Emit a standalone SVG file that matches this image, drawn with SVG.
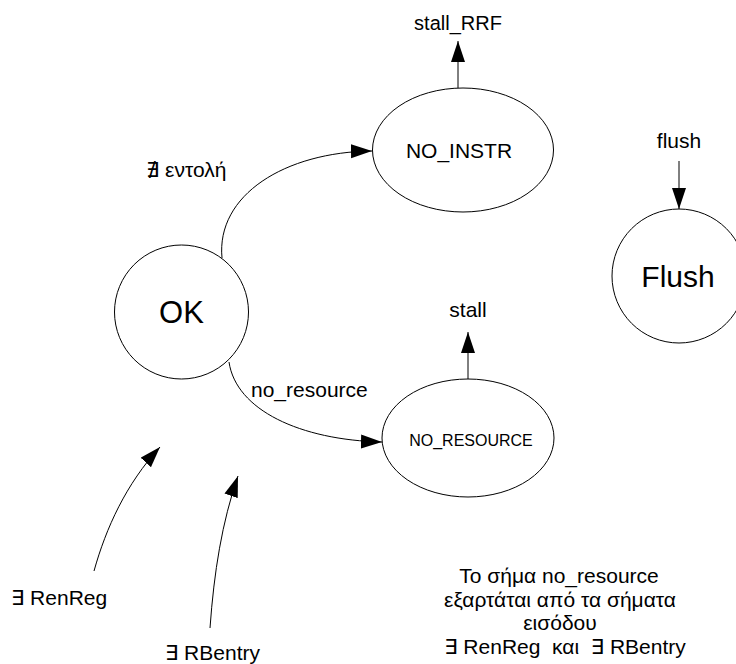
<svg xmlns="http://www.w3.org/2000/svg" width="736" height="664" viewBox="0 0 736 664">
  <style>
    .state { fill: #ffffff; stroke: #000000; stroke-width: 1; }
    .lbl { font-family: "Liberation Sans", "DejaVu Sans", Arial, sans-serif; font-size: 21px; fill: #000000; white-space: pre; }
    .mid { text-anchor: middle; }
    .edge { fill: none; stroke: #000000; stroke-width: 1; marker-end: url(#arrow); }
  </style>
  <defs>
    <marker id="arrow" markerUnits="userSpaceOnUse" markerWidth="21" markerHeight="15" refX="21" refY="7" orient="auto">
      <path d="M0,0 L21,7 L0,14 Z" fill="#000000"/>
    </marker>
  </defs>
  <rect x="0" y="0" width="736" height="664" fill="#ffffff"/>

  <!-- state nodes -->
  <g id="ok">
    <circle class="state" cx="181.5" cy="312" r="67"/>
    <text class="lbl mid" x="181.5" y="323" style="font-size:31px">OK</text>
  </g>
  <g id="no_instr">
    <ellipse class="state" cx="463" cy="150" rx="90.5" ry="62"/>
    <text class="lbl mid" x="459" y="158">NO_INSTR</text>
  </g>
  <g id="no_resource">
    <ellipse class="state" cx="468" cy="438" rx="86" ry="59"/>
    <text class="lbl mid" x="471" y="446" style="font-size:16px">NO_RESOURCE</text>
  </g>
  <g id="flush_state">
    <circle class="state" cx="679" cy="276" r="67"/>
    <text class="lbl mid" x="678" y="287" style="font-size:30px">Flush</text>
  </g>

  <!-- transitions and signals -->
  <g id="connectors">
    <path class="edge" d="M222,258 C216,195 285,152 372,151"/>
    <path class="edge" d="M229,362 C236,410 300,440 382,442"/>
    <line class="edge" x1="458" y1="88" x2="458" y2="41"/>
    <line class="edge" x1="468" y1="379" x2="468" y2="332"/>
    <line class="edge" x1="679" y1="161" x2="679" y2="209"/>
    <path class="edge" d="M94,571 C106,528 126,484 160,447"/>
    <path class="edge" d="M210,628 C214,572 222,522 238,476"/>
  </g>

  <!-- labels -->
  <g id="labels">
    <text class="lbl" x="146" y="177">∄ εντολή</text>
    <text class="lbl" x="251" y="397">no_resource</text>
    <text class="lbl mid" x="458" y="30" style="font-size:20px">stall_RRF</text>
    <text class="lbl mid" x="468" y="317">stall</text>
    <text class="lbl mid" x="679" y="148">flush</text>
    <text class="lbl" x="11" y="605">∃ RenReg</text>
    <text class="lbl" x="165" y="660">∃ RBentry</text>
  </g>

  <!-- note -->
  <g id="note">
    <text class="lbl mid" x="559" y="583">Το σήμα no_resource</text>
    <text class="lbl mid" x="560" y="607">εξαρτάται από τα σήματα</text>
    <text class="lbl mid" x="560" y="630">εισόδου</text>
    <text class="lbl mid" x="565" y="654">∃ RenReg  και  ∃ RBentry</text>
  </g>
</svg>
